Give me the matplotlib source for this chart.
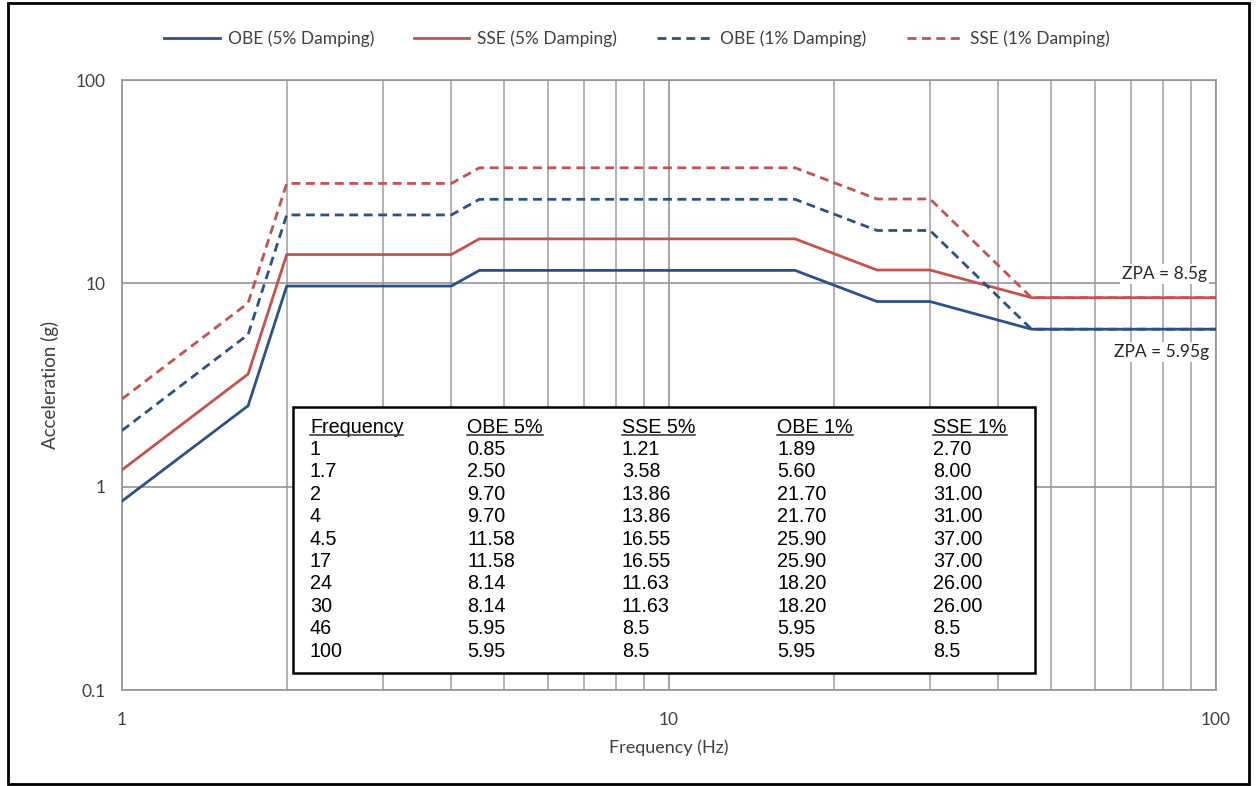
import matplotlib.pyplot as plt
import numpy as np
from matplotlib.patches import Rectangle
from matplotlib.lines import Line2D
from matplotlib.ticker import LogLocator, NullFormatter, FixedLocator, FixedFormatter

# Inputs (kept as the strings shown in the table)
freq = ['1', '1.7', '2', '4', '4.5', '17', '24', '30', '46', '100']
obe_5 = ['0.85', '2.50', '9.70', '9.70', '11.58', '11.58', '8.14', '8.14', '5.95', '5.95']
sse_5 = ['1.21', '3.58', '13.86', '13.86', '16.55', '16.55', '11.63', '11.63', '8.5', '8.5']
obe_1 = ['1.89', '5.60', '21.70', '21.70', '25.90', '25.90', '18.20', '18.20', '5.95', '5.95']
sse_1 = ['2.70', '8.00', '31.00', '31.00', '37.00', '37.00', '26.00', '26.00', '8.5', '8.5']

table_headers = ['Frequency', 'OBE 5%', 'SSE 5%', 'OBE 1%', 'SSE 1%']
y_ticks = [0.1, 1, 10, 100]
y_tick_labels = ['0.1', '1', '10', '100']
x_ticks = [1, 10, 100]
x_tick_labels = ['1', '10', '100']

blue = '#2a5189'
red = '#c6524e'
grid_col = '#a6a6a6'
ui_font = 'Lato'
table_font = 'Liberation Sans'

x = np.array(freq, dtype=float)

fig = plt.figure(figsize=(12.57, 7.86), dpi=100)
ax = fig.add_axes([0.0971, 0.1221, 0.8703, 0.7761])

series = [
    (obe_5, 'OBE (5% Damping)', blue, '-'),
    (sse_5, 'SSE (5% Damping)', red, '-'),
    (obe_1, 'OBE (1% Damping)', blue, '--'),
    (sse_1, 'SSE (1% Damping)', red, '--'),
]
for vals, label, col, ls in series:
    line, = ax.plot(x, np.array(vals, dtype=float), color=col, lw=2.0, ls=ls,
                    label=label, zorder=3)
    if ls == '--':
        line.set_dashes((3.2, 2.0))

ax.set_xscale('log')
ax.set_yscale('log')
ax.set_xlim(1, 100)
ax.set_ylim(0.1, 100)

# Grid: vertical lines on every minor step, horizontal only at decades
ax.xaxis.set_major_locator(FixedLocator(x_ticks))
ax.xaxis.set_major_formatter(FixedFormatter(x_tick_labels))
ax.xaxis.set_minor_locator(LogLocator(base=10, subs=np.arange(2, 10)))
ax.xaxis.set_minor_formatter(NullFormatter())
ax.yaxis.set_major_locator(FixedLocator(y_ticks))
ax.yaxis.set_major_formatter(FixedFormatter(y_tick_labels))
ax.yaxis.set_minor_locator(FixedLocator([]))
ax.grid(True, which='major', color='#959595', lw=1.2, zorder=0)
ax.grid(True, which='minor', axis='x', color=grid_col, lw=1.2, zorder=0)
for s in ax.spines.values():
    s.set_color('#959595')
    s.set_linewidth(1.2)
ax.tick_params(which='both', length=0, labelsize=12.5, colors='#404040')
ax.tick_params(axis='x', pad=16)
ax.tick_params(axis='y', pad=12)
for lab in ax.get_xticklabels() + ax.get_yticklabels():
    lab.set_family(ui_font)

ax.set_xlabel('Frequency (Hz)', fontsize=13, family=ui_font, color='#404040', labelpad=8)
ax.set_ylabel('Acceleration (g)', fontsize=13.5, family=ui_font, color='#404040', labelpad=12)

# ZPA annotations
ax.text(0.992, 0.682, 'ZPA = 8.5g', transform=ax.transAxes, ha='right', va='center',
        fontsize=12.5, family=ui_font, color='#262626', zorder=4,
        bbox=dict(facecolor='white', edgecolor='none', pad=1.5))
ax.text(0.994, 0.554, 'ZPA = 5.95g', transform=ax.transAxes, ha='right', va='center',
        fontsize=12.5, family=ui_font, color='#262626', zorder=4,
        bbox=dict(facecolor='white', edgecolor='none', pad=1.5))

# Data table box
ax.add_patch(Rectangle((0.1563, 0.0279), 0.8346 - 0.1563, 0.4639 - 0.0279,
                       transform=ax.transAxes, facecolor='white', edgecolor='black',
                       lw=1.8, zorder=5))
col_x = [0.1718, 0.3154, 0.4570, 0.5987, 0.7413]
row0 = 0.4311
row_step = 0.03672
columns = [freq, obe_5, sse_5, obe_1, sse_1]
headers = []
for cx, head, col in zip(col_x, table_headers, columns):
    h = ax.text(cx, row0, head, transform=ax.transAxes, ha='left', va='center',
                fontsize=14.2, family=table_font, color='black', zorder=6)
    headers.append(h)
    for i, v in enumerate(col):
        ax.text(cx, row0 - (i + 1) * row_step, v, transform=ax.transAxes, ha='left',
                va='center', fontsize=14.2, family=table_font, color='black', zorder=6)

# Legend
handles, labels = ax.get_legend_handles_labels()
leg = fig.legend(handles, labels, loc='center', bbox_to_anchor=(637 / 1257, 1 - 39 / 786),
                 ncol=4, frameon=False, handlelength=3.2, handletextpad=0.45,
                 columnspacing=2.3, prop={'family': ui_font, 'size': 12.5})
for t in leg.get_texts():
    t.set_color('#404040')

# Underline table headers
fig.canvas.draw()
inv = fig.transFigure.inverted()
for h in headers:
    bb = h.get_window_extent()
    (x0, y0), (x1, _) = inv.transform([(bb.x0, bb.y0), (bb.x1, bb.y1)])
    fig.add_artist(Line2D([x0, x1], [y0 + 0.002, y0 + 0.002], color='#404040', lw=1.2,
                          transform=fig.transFigure, zorder=7))

# Outer border
fig.add_artist(Rectangle((8 / 1257, 0.002), 1 - 16 / 1257, 1 - 0.006,
                         transform=fig.transFigure, fill=False, edgecolor='black', lw=2))

fig.savefig('out.png', dpi=100)
